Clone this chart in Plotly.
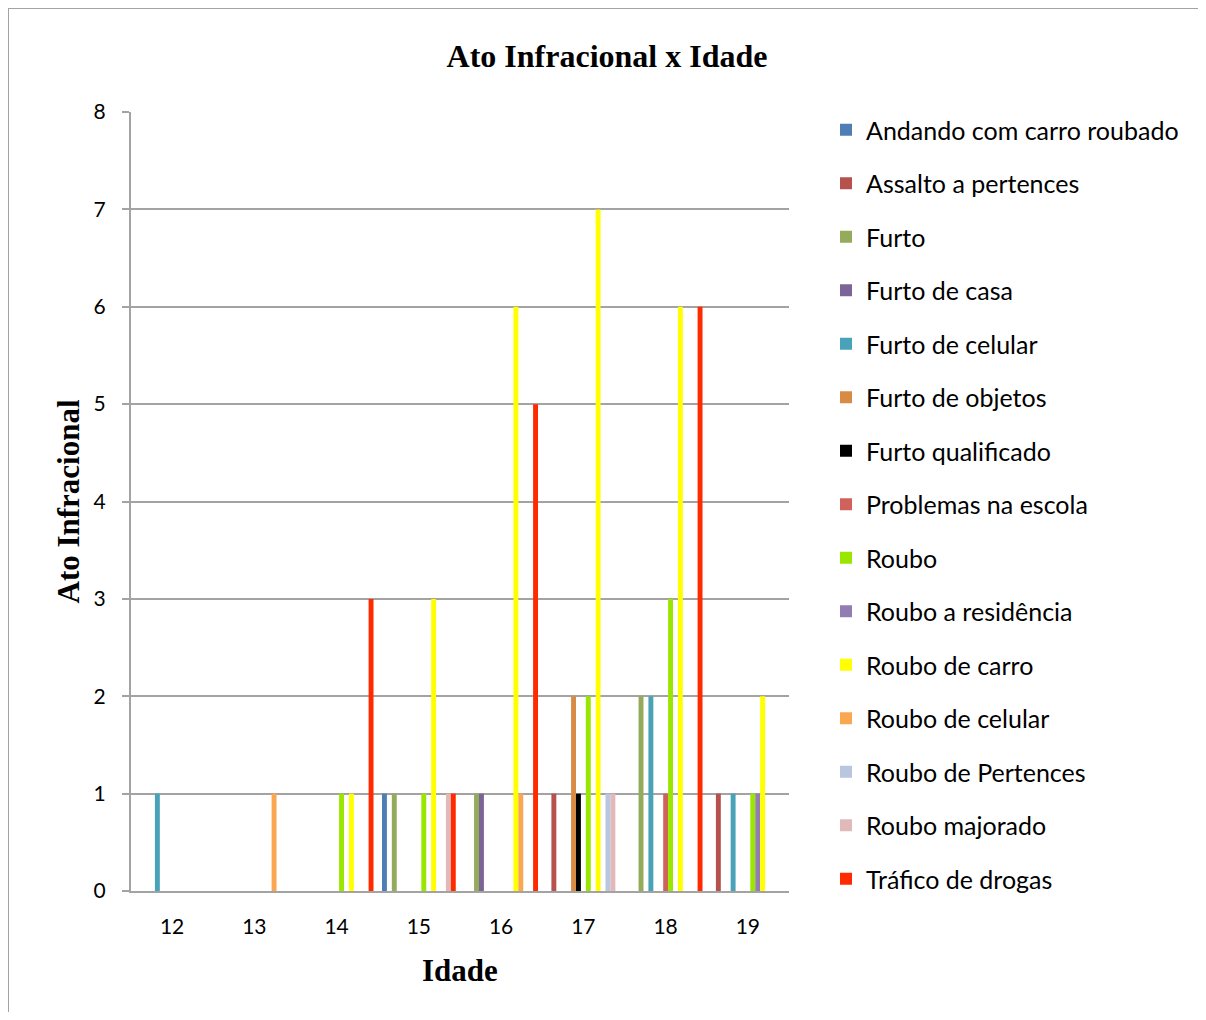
import plotly.graph_objects as go

# ---- data ----
idades = ["12", "13", "14", "15", "16", "17", "18", "19"]

andando_carro_roubado = [0, 0, 0, 1, 0, 0, 0, 0]
assalto_pertences     = [0, 0, 0, 0, 0, 1, 0, 1]
furto                 = [0, 0, 0, 1, 1, 0, 2, 0]
furto_casa            = [0, 0, 0, 0, 1, 0, 0, 0]
furto_celular         = [1, 0, 0, 0, 0, 0, 2, 1]
furto_objetos         = [0, 0, 0, 0, 0, 2, 0, 0]
furto_qualificado     = [0, 0, 0, 0, 0, 1, 0, 0]
problemas_escola      = [0, 0, 0, 0, 0, 0, 1, 0]
roubo                 = [0, 0, 1, 1, 0, 2, 3, 1]
roubo_residencia      = [0, 0, 0, 0, 0, 0, 0, 1]
roubo_carro           = [0, 0, 1, 3, 6, 7, 6, 2]
roubo_celular         = [0, 1, 0, 0, 1, 0, 0, 0]
roubo_pertences       = [0, 0, 0, 0, 0, 1, 0, 0]
roubo_majorado        = [0, 0, 0, 1, 0, 1, 0, 0]
trafico_drogas        = [0, 0, 3, 1, 5, 0, 6, 0]

series_names = [
    "Andando com carro roubado", "Assalto a pertences", "Furto", "Furto de casa",
    "Furto de celular", "Furto de objetos", "Furto qualificado", "Problemas na escola",
    "Roubo", "Roubo a residência", "Roubo de carro", "Roubo de celular",
    "Roubo de Pertences", "Roubo majorado", "Tráfico de drogas",
]
series_values = [
    andando_carro_roubado, assalto_pertences, furto, furto_casa,
    furto_celular, furto_objetos, furto_qualificado, problemas_escola,
    roubo, roubo_residencia, roubo_carro, roubo_celular,
    roubo_pertences, roubo_majorado, trafico_drogas,
]
series_colors = [
    "#4F7DB5", "#B5524E", "#93AB5A", "#7B6598",
    "#4AA2B9", "#D88B45", "#000000", "#D0625C",
    "#99E600", "#917DB4", "#FFFF00", "#FBA650",
    "#B8C6E0", "#E1B9B8", "#FF2A00",
]
y_ticks = [0, 1, 2, 3, 4, 5, 6, 7, 8]

# ---- figure (page body has an 8px margin, so the figure is drawn 8px in) ----
W, H = 1190, 1004
L, R, T, B = 123, 781, 104, 883

fig = go.Figure()
for name, vals, col in zip(series_names, series_values, series_colors):
    fig.add_trace(go.Bar(
        x=idades, y=vals, name=name, legendgroup=name,
        marker=dict(color=col, line=dict(width=0)),
    ))

GRID = "#A3A3A3"
SANS = "Lato, Carlito, sans-serif"
TICKFONT = dict(family=SANS, size=21, color="black")
SERIF = "Liberation Serif, Times New Roman, serif"


def px_to_paper_x(px):
    return (px - L) / (R - L)


def px_to_paper_y(py):
    return (B - py) / (B - T)


fig.update_layout(
    width=W, height=H,
    margin=dict(l=L, r=W - R, t=T, b=H - B, autoexpand=False),
    paper_bgcolor="white", plot_bgcolor="white",
    barmode="group", bargap=0.103, bargroupgap=0,
    title=dict(
        text="<b>Ato Infracional x Idade</b>",
        font=dict(family=SERIF, size=32, color="black"),
        x=599 / W, xref="container", xanchor="center",
        y=1 - 48 / H, yref="container", yanchor="middle",
    ),
    xaxis=dict(
        type="category", categoryorder="array", categoryarray=idades,
        showline=True, linecolor=GRID, linewidth=2,
        ticks="", showgrid=False, zeroline=False,
        tickfont=TICKFONT, ticklabelstandoff=16,
    ),
    yaxis=dict(
        range=[0, 8], tickvals=y_ticks, ticktext=[str(v) for v in y_ticks],
        showline=True, linecolor=GRID, linewidth=2,
        ticks="outside", ticklen=7, tickwidth=2, tickcolor=GRID,
        showgrid=True, gridcolor=GRID, gridwidth=2, zeroline=False,
        tickfont=TICKFONT, ticklabelstandoff=12,
    ),
    legend=dict(
        x=px_to_paper_x(818), xanchor="left",
        y=1 - 99 / H, yref="container", yanchor="top",
        font=dict(family=SANS, size=25, color="black"),
        tracegroupgap=18, bgcolor="rgba(0,0,0,0)", borderwidth=0,
        traceorder="grouped", maxheight=H,
    ),
    annotations=[
        dict(text="<b>Idade</b>", xref="paper", yref="paper",
             x=0.5, y=px_to_paper_y(962), xanchor="center", yanchor="middle",
             showarrow=False, font=dict(family=SERIF, size=31, color="black")),
        dict(text="<b>Ato Infracional</b>", xref="paper", yref="paper",
             x=px_to_paper_x(60), y=0.5, xanchor="center", yanchor="middle",
             textangle=-90, showarrow=False,
             font=dict(family=SERIF, size=31, color="black")),
    ],
    shapes=[
        dict(type="line", xref="paper", yref="paper",
             x0=px_to_paper_x(0), x1=px_to_paper_x(0),
             y0=px_to_paper_y(0), y1=px_to_paper_y(H + 5),
             line=dict(color=GRID, width=2)),
        dict(type="line", xref="paper", yref="paper",
             x0=px_to_paper_x(0), x1=px_to_paper_x(W + 5),
             y0=px_to_paper_y(0), y1=px_to_paper_y(0),
             line=dict(color=GRID, width=2)),
    ],
)

fig.write_html("out.html")
